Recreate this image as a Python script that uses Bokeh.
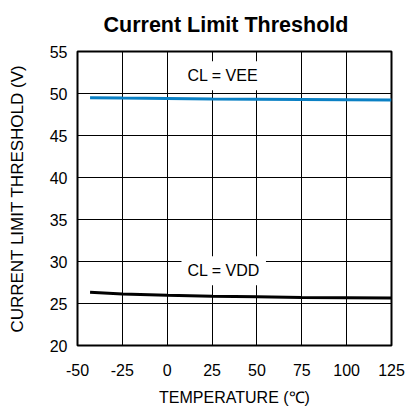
from bokeh.plotting import figure
from bokeh.models import Label, FixedTicker, Range1d
from bokeh.embed import file_html
from bokeh.resources import INLINE

temps = [-43, -25, 0, 25, 50, 75, 100, 125]
cl_vee = [49.5, 49.45, 49.4, 49.35, 49.32, 49.3, 49.27, 49.22]
cl_vdd = [26.33, 26.14, 25.98, 25.87, 25.8, 25.72, 25.68, 25.64]
x_ticks = [-50, -25, 0, 25, 50, 75, 100, 125]
x_tick_labels = ["-50", "-25", "0", "25", "50", "75", "100", "125"]
y_ticks = [20, 25, 30, 35, 40, 45, 50, 55]
title_text = "Current Limit Threshold"

FONT = "Liberation Sans"

p = figure(width=405, height=408, output_backend="svg", toolbar_location=None,
           x_range=Range1d(-50, 125), y_range=Range1d(20, 55),
           min_border_left=77, min_border_top=47, min_border_right=14, min_border_bottom=61,
           title=title_text)
p.title.text_font = FONT
p.title.text_font_size = "21.5px"
p.title.text_font_style = "bold"
p.title.text_color = "black"
p.title.align = "left"
p.title.vertical_align = "top"
p.title.offset = 26
p.title.standoff = 25

p.outline_line_color = "black"
p.outline_line_width = 2
p.background_fill_color = "white"
p.border_fill_color = "white"

for ax in (p.xaxis[0], p.yaxis[0]):
    ax.axis_line_color = None
    ax.major_tick_line_color = None
    ax.minor_tick_line_color = None
    ax.major_tick_out = 0
    ax.major_tick_in = 0
    ax.major_label_text_font = FONT
    ax.major_label_text_font_size = "16px"
    ax.major_label_text_color = "black"
    ax.axis_label_text_font = FONT
    ax.axis_label_text_font_style = "normal"
    ax.axis_label_text_color = "black"

p.xaxis.axis_label_text_font_size = "16px"
p.yaxis.axis_label_text_font_size = "17px"
p.xaxis.ticker = FixedTicker(ticks=x_ticks)
p.xaxis.major_label_overrides = {t: s for t, s in zip(x_ticks, x_tick_labels)}
p.yaxis.ticker = FixedTicker(ticks=y_ticks)
p.xaxis.axis_label = "TEMPERATURE (℃)"
p.yaxis.axis_label = "CURRENT LIMIT THRESHOLD (V)"
p.xaxis.major_label_standoff = 18
p.yaxis.major_label_standoff = 10
p.xaxis.axis_label_standoff = 10
p.yaxis.axis_label_standoff = 20

p.xgrid.ticker = FixedTicker(ticks=x_ticks)
p.ygrid.ticker = FixedTicker(ticks=y_ticks)
for g in (p.xgrid[0], p.ygrid[0]):
    g.grid_line_color = "black"
    g.grid_line_width = 1
    g.grid_line_alpha = 1.0

p.line(temps, cl_vee, line_color="#0a80c4", line_width=3)
p.line(temps, cl_vdd, line_color="black", line_width=3)

for txt, xx, yy in [("CL = VEE", 31, 52.1), ("CL = VDD", 31.5, 28.9)]:
    p.add_layout(Label(x=xx, y=yy, text=txt, text_align="center", text_baseline="middle",
                       text_font=FONT, text_font_size="16px", text_color="black",
                       background_fill_color="white", padding=6))

open("out.html", "w").write(file_html(p, INLINE))
